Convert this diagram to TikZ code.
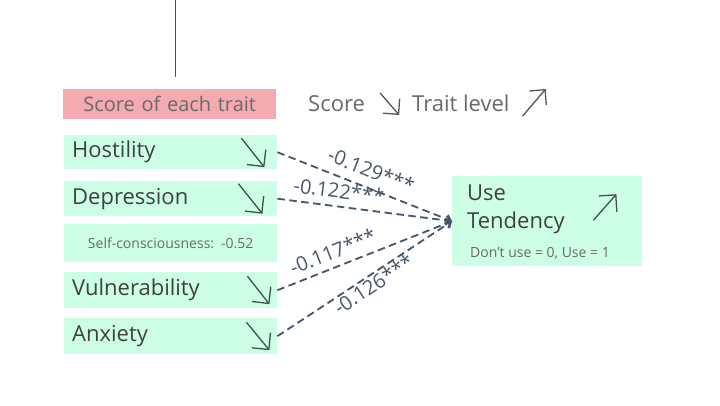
\documentclass[tikz,border=0pt]{standalone}
\usepackage{fontspec}
\setmainfont{Open Sans}
\usetikzlibrary{arrows.meta}
\definecolor{mint}{HTML}{CCFFE6}
\definecolor{pinkbox}{HTML}{F3AAB0}
\definecolor{slate}{HTML}{44546A}
\definecolor{txtdark}{HTML}{404040}
\definecolor{txtgray}{HTML}{6A6A6A}
\definecolor{glyphc}{HTML}{3E5248}
\begin{document}
\begin{tikzpicture}[x=1pt,y=-1pt,
  box/.style={fill=mint, draw=none, anchor=north west, inner xsep=8pt, inner ysep=0pt,
    text width=197pt, minimum height=34pt, align=left, text=txtdark,
    font=\fontsize{22}{26}\selectfont},
  smallbox/.style={box, align=center, minimum height=37.5pt, text=txtgray,
    font=\fontsize{14}{17}\selectfont},
  scorebox/.style={box, fill=pinkbox, align=center, minimum height=30pt, text=txtgray,
    font=\fontsize{20}{24}\selectfont},
  usebox/.style={fill=mint, draw=none, anchor=north west, minimum width=190pt, minimum height=90pt, inner sep=0pt},
  bigtext/.style={anchor=base west, inner sep=0pt, text=txtdark, font=\fontsize{22}{26}\selectfont},
  toptext/.style={anchor=base west, inner sep=0pt, text=txtgray, font=\fontsize{22}{26}\selectfont},
  notetext/.style={anchor=base west, inner sep=0pt, text=txtgray, font=\fontsize{14}{17}\selectfont},
  glyph/.style={draw=glyphc, line width=1.3pt, -{Straight Barb[length=12pt,width=24pt,line width=1.3pt]}},
  topglyph/.style={draw=txtgray!80!black, line width=1.3pt, -{Straight Barb[length=11pt,width=22pt,line width=1.3pt]}},
  link/.style={draw=slate, line width=1.8pt, dash pattern=on 7.5pt off 4.5pt,
    -{Straight Barb[length=5pt,width=9pt,line width=1.5pt]}},
  coef/.style={sloped, inner sep=2pt, text=slate!90!gray, font=\fontsize{20}{24}\selectfont}
]
\fill[white] (0,0) rectangle (720,405);
\useasboundingbox (0,0) rectangle (720,405);

% top line
\coordinate (topA) at (175,0);
\coordinate (topB) at (175,77);
\draw[slate, line width=1pt] (topA) -- (topB);

% left column
\node[scorebox] (score) at (63,89) {Score of each trait};
\node[box] (host) at (64,135) {Hostility};
\node[box, minimum height=35pt] (dep) at (64,181) {Depression};
\node[smallbox] (self) at (64,224) {Self-consciousness: -0.52};
\node[box, minimum height=36pt] (vul) at (64,272) {Vulnerability};
\node[box, minimum height=36pt] (anx) at (64,318) {Anxiety};

% arrow glyphs in boxes
\draw[glyph] ([shift={(-36,-14)}]host.east) -- ([shift={(-13,15)}]host.east);
\draw[glyph] ([shift={(-39,-15)}]dep.east) -- ([shift={(-15,15)}]dep.east);
\draw[glyph] ([shift={(-30,-14)}]vul.east) -- ([shift={(-8,14)}]vul.east);
\draw[glyph] ([shift={(-31,-14)}]anx.east) -- ([shift={(-8,14)}]anx.east);

% top legend
\node[toptext] (scoreT) at (308,111) {Score};
\node[toptext] (traitT) at (412,111) {Trait level};
\draw[topglyph] ([shift={(15,-18)}]scoreT.base east) -- ([shift={(34,4)}]scoreT.base east);
\draw[topglyph] ([shift={(13,5)}]traitT.base east) -- ([shift={(36,-22)}]traitT.base east);

% use tendency
\node[usebox] (use) at (452,176) {};
\node[bigtext] (useT) at (467,200) {Use};
\node[bigtext] (tendT) at (467,228) {Tendency};
\node[notetext] (noteT) at (470,257) {Don’t use = 0, Use = 1};
\draw[glyph] ([shift={(-49,-1)}]use.east) -- ([shift={(-26,-27)}]use.east);

% connectors
\draw[link] (host.east) -- node[coef, pos=0.5, above=7pt] {-0.129***} (use.west);
\draw[link] (dep.east) -- node[coef, pos=0.34, above=5pt] {-0.122***} (use.west);
\draw[link] (vul.east) -- node[coef, pos=0.35, above=5pt] {-0.117***} (use.west);
\draw[link] (anx.east) -- node[coef, pos=0.52, below=-1pt] {-0.126***} (use.west);
\end{tikzpicture}
\end{document}
